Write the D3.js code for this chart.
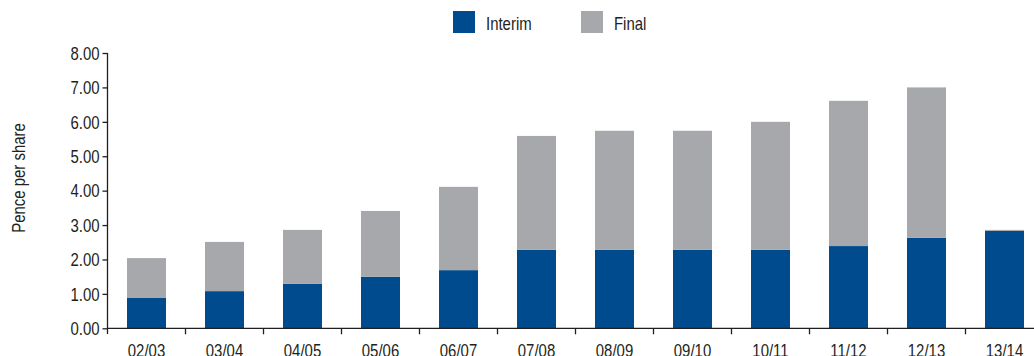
<!DOCTYPE html>
<meta charset="utf-8">
<style>
body { margin: 0; background: #fff; }
svg { display: block; }
text {
  font-family: "Liberation Sans", Arial, sans-serif;
  font-size: 18px;
  fill: #231f20;
}
.axis path, .axis line { stroke: #231f20; stroke-width: 1.3px; }
</style>
<svg width="1034" height="356"></svg>
<script src="https://d3js.org/d3.v7.min.js"></script>
<script>
// dividend per share, pence
var years = ["02/03","03/04","04/05","05/06","06/07","07/08","08/09","09/10","10/11","11/12","12/13","13/14"];
var interim = [0.88, 1.08, 1.29, 1.50, 1.69, 2.28, 2.28, 2.28, 2.28, 2.39, 2.63, 2.83];
var final_ = [1.16, 1.43, 1.57, 1.91, 2.42, 3.31, 3.46, 3.46, 3.72, 4.22, 4.37, 0.03];
var yTicks = [0, 1, 2, 3, 4, 5, 6, 7, 8];
var seriesNames = ["Interim", "Final"];
var colors = ["#004b8d", "#a7a8ab"];

var narrow = 0.83; // no Arial Narrow here, squeeze the text instead

var svg = d3.select("svg");

var x = d3.scaleBand()
    .domain(years)
    .range([107.5, 1043.5])
    .paddingInner(0.5)
    .paddingOuter(0.25);

var y = d3.scaleLinear()
    .domain([0, 8])
    .range([328.3, 53]);

var rows = years.map(function(yr, i) {
  return {year: yr, Interim: interim[i], Final: final_[i]};
});
var stack = d3.stack().keys(seriesNames)(rows);

svg.append("g")
  .selectAll("g")
  .data(stack).enter().append("g")
    .attr("fill", function(d, i) { return colors[i]; })
  .selectAll("rect")
  .data(function(d) { return d; }).enter().append("rect")
    .attr("x", function(d) { return x(d.data.year); })
    .attr("width", x.bandwidth())
    .attr("y", function(d) { return y(d[1]); })
    .attr("height", function(d) { return y(d[0]) - y(d[1]); });

// y axis
var yAxis = svg.append("g")
    .attr("class", "axis")
    .attr("transform", "translate(107.5,0)")
    .call(d3.axisLeft(y).tickValues(yTicks).tickSize(5).tickSizeOuter(0)
      .tickFormat(d3.format(".2f")));
yAxis.select(".domain").attr("d", "M0," + y(8) + "V334");
yAxis.selectAll("text")
    .attr("x", 0).attr("dy", "0.35em")
    .attr("transform", "translate(-8,0) scale(" + narrow + ",1)");

// x axis: line with ticks on category boundaries
var xg = svg.append("g").attr("class", "axis");
xg.append("line")
    .attr("x1", 107.5).attr("x2", 1034)
    .attr("y1", y(0)).attr("y2", y(0));
xg.selectAll("line.tick")
  .data(years.slice(1)).enter().append("line")
    .attr("class", "tick")
    .attr("x1", function(d) { return x(d) - x.step() * 0.25; })
    .attr("x2", function(d) { return x(d) - x.step() * 0.25; })
    .attr("y1", y(0)).attr("y2", y(0) + 6);
xg.selectAll("text")
  .data(years).enter().append("text")
    .attr("transform", function(d) {
      return "translate(" + (x(d) + x.bandwidth() / 2) + ",357) scale(" + narrow + ",1)";
    })
    .attr("text-anchor", "middle")
    .text(function(d) { return d; });

// y label
svg.append("text")
    .attr("transform", "translate(25,178) rotate(-90) scale(" + narrow + ",1)")
    .attr("text-anchor", "middle")
    .text("Pence per share");

// legend
var legendX = [453, 581];
var leg = svg.append("g").selectAll("g")
  .data(seriesNames).enter().append("g")
    .attr("transform", function(d, i) { return "translate(" + legendX[i] + ",11)"; });
leg.append("rect")
    .attr("width", 22).attr("height", 22)
    .attr("fill", function(d, i) { return colors[i]; });
leg.append("text")
    .attr("transform", "translate(33,19) scale(" + narrow + ",1)")
    .text(function(d) { return d; });
</script>
